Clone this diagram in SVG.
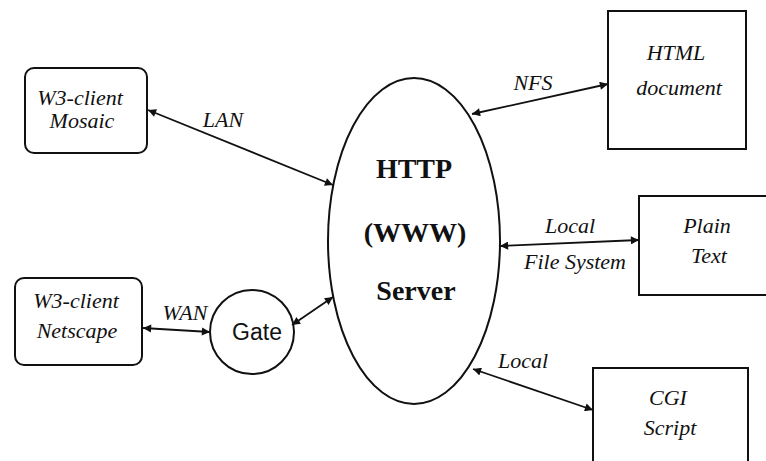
<svg xmlns="http://www.w3.org/2000/svg" width="766" height="461" viewBox="0 0 766 461">
  <style>
    .shape { fill: none; stroke: #111; stroke-width: 2; }
    .link { fill: none; stroke: #111; stroke-width: 1.8; marker-start: url(#head); marker-end: url(#head); }
    .it { font-family: "Liberation Serif", "Times New Roman", serif; font-style: italic; font-size: 22px; fill: #111; }
    .bold { font-family: "Liberation Serif", "Times New Roman", serif; font-weight: bold; font-size: 28px; fill: #111; }
    .sans { font-family: "Liberation Sans", Arial, sans-serif; font-size: 23px; fill: #111; }
  </style>
  <defs>
    <marker id="head" viewBox="0 0 10 10" refX="10" refY="5" markerWidth="5.5" markerHeight="4.5" orient="auto-start-reverse" markerUnits="strokeWidth">
      <path d="M0,0 L10,5 L0,10 z" fill="#111"/>
    </marker>
  </defs>
  <rect width="766" height="461" fill="#fff"/>

  <!-- connectors -->
  <g id="connectors">
    <line class="link" x1="148" y1="110" x2="333" y2="185"/>
    <line class="link" x1="143" y1="328" x2="210" y2="332"/>
    <line class="link" x1="292" y1="325" x2="333" y2="297"/>
    <line class="link" x1="472" y1="114" x2="608" y2="84"/>
    <line class="link" x1="500" y1="246" x2="639" y2="240"/>
    <line class="link" x1="473" y1="369" x2="593" y2="410"/>
    <text class="it" x="223" y="127" text-anchor="middle">LAN</text>
    <text class="it" x="185" y="320" text-anchor="middle">WAN</text>
    <text class="it" x="533" y="90" text-anchor="middle">NFS</text>
    <text class="it" x="570" y="233" text-anchor="middle">Local</text>
    <text class="it" x="575" y="269" text-anchor="middle">File System</text>
    <text class="it" x="523" y="368" text-anchor="middle">Local</text>
  </g>

  <g id="server">
    <ellipse class="shape" cx="414" cy="241" rx="86" ry="163"/>
    <text class="bold" x="414" y="178" text-anchor="middle">HTTP</text>
    <text class="bold" x="415" y="242" text-anchor="middle">(WWW)</text>
    <text class="bold" x="416" y="300" text-anchor="middle">Server</text>
  </g>

  <g id="mosaic">
    <rect class="shape" x="25" y="68" width="122" height="85" rx="9"/>
    <text class="it" x="80" y="105" text-anchor="middle">W3-client</text>
    <text class="it" x="82" y="128" text-anchor="middle">Mosaic</text>
  </g>

  <g id="netscape">
    <rect class="shape" x="15" y="278" width="127" height="87" rx="9"/>
    <text class="it" x="76" y="308" text-anchor="middle">W3-client</text>
    <text class="it" x="77" y="338" text-anchor="middle">Netscape</text>
  </g>

  <g id="gate">
    <circle class="shape" cx="252" cy="332" r="42"/>
    <text class="sans" x="257" y="340" text-anchor="middle">Gate</text>
  </g>

  <g id="html">
    <rect class="shape" x="608" y="11" width="138" height="138"/>
    <text class="it" x="676" y="60" text-anchor="middle">HTML</text>
    <text class="it" x="679" y="95" text-anchor="middle">document</text>
  </g>

  <g id="plaintext">
    <rect class="shape" x="639" y="196" width="140" height="99"/>
    <text class="it" x="707" y="233" text-anchor="middle">Plain</text>
    <text class="it" x="709" y="263" text-anchor="middle">Text</text>
  </g>

  <g id="cgi">
    <rect class="shape" x="593" y="368" width="155" height="110"/>
    <text class="it" x="668" y="405" text-anchor="middle">CGI</text>
    <text class="it" x="670" y="435" text-anchor="middle">Script</text>
  </g>
</svg>
